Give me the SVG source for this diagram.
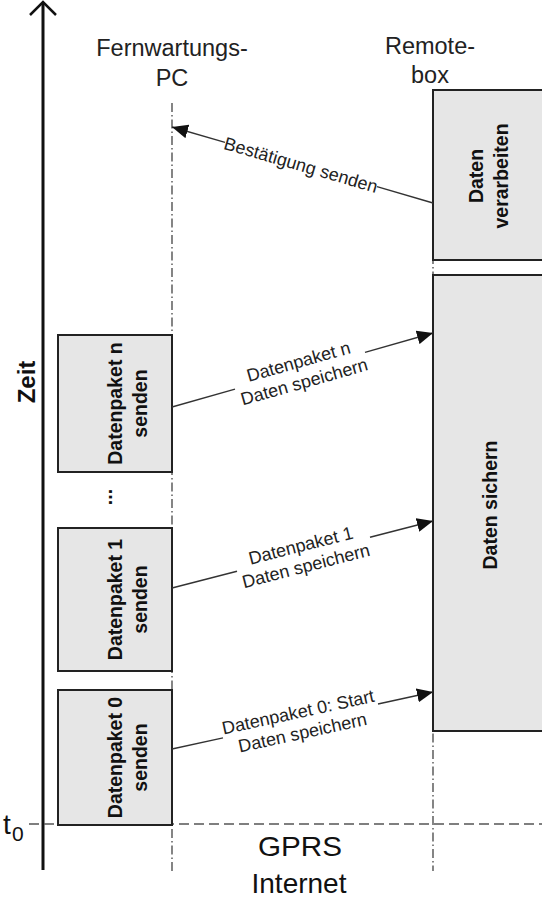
<svg xmlns="http://www.w3.org/2000/svg" width="542" height="901" viewBox="0 0 542 901">
  <style>
    .box { fill: #e6e6e6; stroke: #222; stroke-width: 2; }
    .boxtext { font-family: "Liberation Sans", Arial, sans-serif; font-weight: bold; font-size: 19.5px; fill: #111; text-anchor: middle; }
    .head { font-family: "Liberation Sans", Arial, sans-serif; font-size: 23.5px; fill: #222; text-anchor: middle; }
    .msg { font-family: "Liberation Sans", Arial, sans-serif; font-size: 18px; fill: #222; text-anchor: middle; }
    .life { stroke: #444; stroke-width: 1.3; stroke-dasharray: 9 3 1.5 3; fill: none; }
    .conn { stroke: #333; stroke-width: 1.4; fill: none; }
  </style>
  <defs>
    <marker id="arrow" markerUnits="userSpaceOnUse" markerWidth="17" markerHeight="14" refX="16" refY="7" orient="auto">
      <path d="M0,0 L16,7 L0,14 Z" fill="#111"/>
    </marker>
  </defs>

  <rect width="542" height="901" fill="#fff"/>

  <!-- lifelines -->
  <g id="lifelines">
    <line class="life" x1="172" y1="103" x2="172" y2="873"/>
    <line class="life" x1="433" y1="90" x2="433" y2="871"/>
  </g>

  <!-- time axis -->
  <g id="time-axis">
    <line x1="43" y1="3" x2="43" y2="870" stroke="#111" stroke-width="3"/>
    <polyline points="30,15 43,2 56,15" fill="none" stroke="#111" stroke-width="2.5"/>
    <text transform="translate(35,382) rotate(-90)" font-family="Liberation Sans, Arial, sans-serif" font-weight="bold" font-size="24" fill="#111" text-anchor="middle">Zeit</text>
  </g>

  <!-- t0 reference line -->
  <g id="t0-line">
    <line x1="29" y1="824" x2="542" y2="824" stroke="#555" stroke-width="1.3" stroke-dasharray="10 5"/>
    <text x="3" y="834" font-family="Liberation Sans, Arial, sans-serif" font-size="28" fill="#111">t</text>
    <text x="12" y="841" font-family="Liberation Sans, Arial, sans-serif" font-size="21" fill="#111">0</text>
  </g>

  <!-- headings -->
  <g id="pc-head">
    <text class="head" x="172" y="56">Fernwartungs-</text>
    <text class="head" x="172" y="86">PC</text>
  </g>
  <g id="remote-head">
    <text class="head" x="430" y="54">Remote-</text>
    <text class="head" x="430" y="83">box</text>
  </g>
  <g id="network">
    <text x="300" y="856" font-family="Liberation Sans, Arial, sans-serif" font-size="28" fill="#111" text-anchor="middle" textLength="84" lengthAdjust="spacingAndGlyphs">GPRS</text>
    <text x="299" y="893" font-family="Liberation Sans, Arial, sans-serif" font-size="28" fill="#111" text-anchor="middle">Internet</text>
  </g>

  <!-- remote box activities -->
  <g id="daten-verarbeiten">
    <rect class="box" x="433" y="90" width="130" height="170"/>
    <text class="boxtext" transform="translate(483,176) rotate(-90)"><tspan x="0" y="0">Daten</tspan><tspan x="0" y="25">verarbeiten</tspan></text>
  </g>
  <g id="daten-sichern">
    <rect class="box" x="433" y="275" width="130" height="456"/>
    <text class="boxtext" transform="translate(497,505) rotate(-90)">Daten sichern</text>
  </g>

  <!-- PC send activities -->
  <g id="paket-n">
    <rect class="box" x="58" y="335" width="114" height="137"/>
    <text class="boxtext" transform="translate(122,403.5) rotate(-90)"><tspan x="0" y="0">Datenpaket n</tspan><tspan x="0" y="25">senden</tspan></text>
  </g>
  <g id="ellipsis">
    <text class="boxtext" transform="translate(112,497) rotate(-90)">...</text>
  </g>
  <g id="paket-1">
    <rect class="box" x="58" y="528" width="114" height="143"/>
    <text class="boxtext" transform="translate(122,599.5) rotate(-90)"><tspan x="0" y="0">Datenpaket 1</tspan><tspan x="0" y="25">senden</tspan></text>
  </g>
  <g id="paket-0">
    <rect class="box" x="58" y="690" width="114" height="135"/>
    <text class="boxtext" transform="translate(122,757.5) rotate(-90)"><tspan x="0" y="0">Datenpaket 0</tspan><tspan x="0" y="25">senden</tspan></text>
  </g>

  <!-- messages -->
  <g id="connectors">
    <!-- acknowledgement back to PC -->
    <line class="conn" x1="433" y1="203" x2="377" y2="186.7"/>
    <line class="conn" x1="225" y1="142.4" x2="172" y2="127" marker-end="url(#arrow)"/>
    <text class="msg" transform="translate(301,164.6) rotate(16.2)" y="6.5">Bestätigung senden</text>

    <!-- packet n -->
    <line class="conn" x1="172" y1="407" x2="235" y2="389.1"/>
    <line class="conn" x1="365" y1="352.3" x2="433" y2="333" marker-end="url(#arrow)"/>
    <text class="msg" transform="translate(301,370.4) rotate(-15.8)"><tspan x="0" y="-3">Datenpaket n</tspan><tspan x="0" y="18">Daten speichern</tspan></text>

    <!-- packet 1 -->
    <line class="conn" x1="172" y1="588" x2="237" y2="571.3"/>
    <line class="conn" x1="370" y1="537.2" x2="433" y2="521" marker-end="url(#arrow)"/>
    <text class="msg" transform="translate(303,554.4) rotate(-14.4)"><tspan x="0" y="-3">Datenpaket 1</tspan><tspan x="0" y="18">Daten speichern</tspan></text>

    <!-- packet 0 -->
    <line class="conn" x1="172" y1="749" x2="223" y2="737.9"/>
    <line class="conn" x1="378" y1="704" x2="433" y2="692" marker-end="url(#arrow)"/>
    <text class="msg" transform="translate(300,721) rotate(-12.3)"><tspan x="0" y="-3">Datenpaket 0: Start</tspan><tspan x="0" y="18">Daten speichern</tspan></text>
  </g>
</svg>
